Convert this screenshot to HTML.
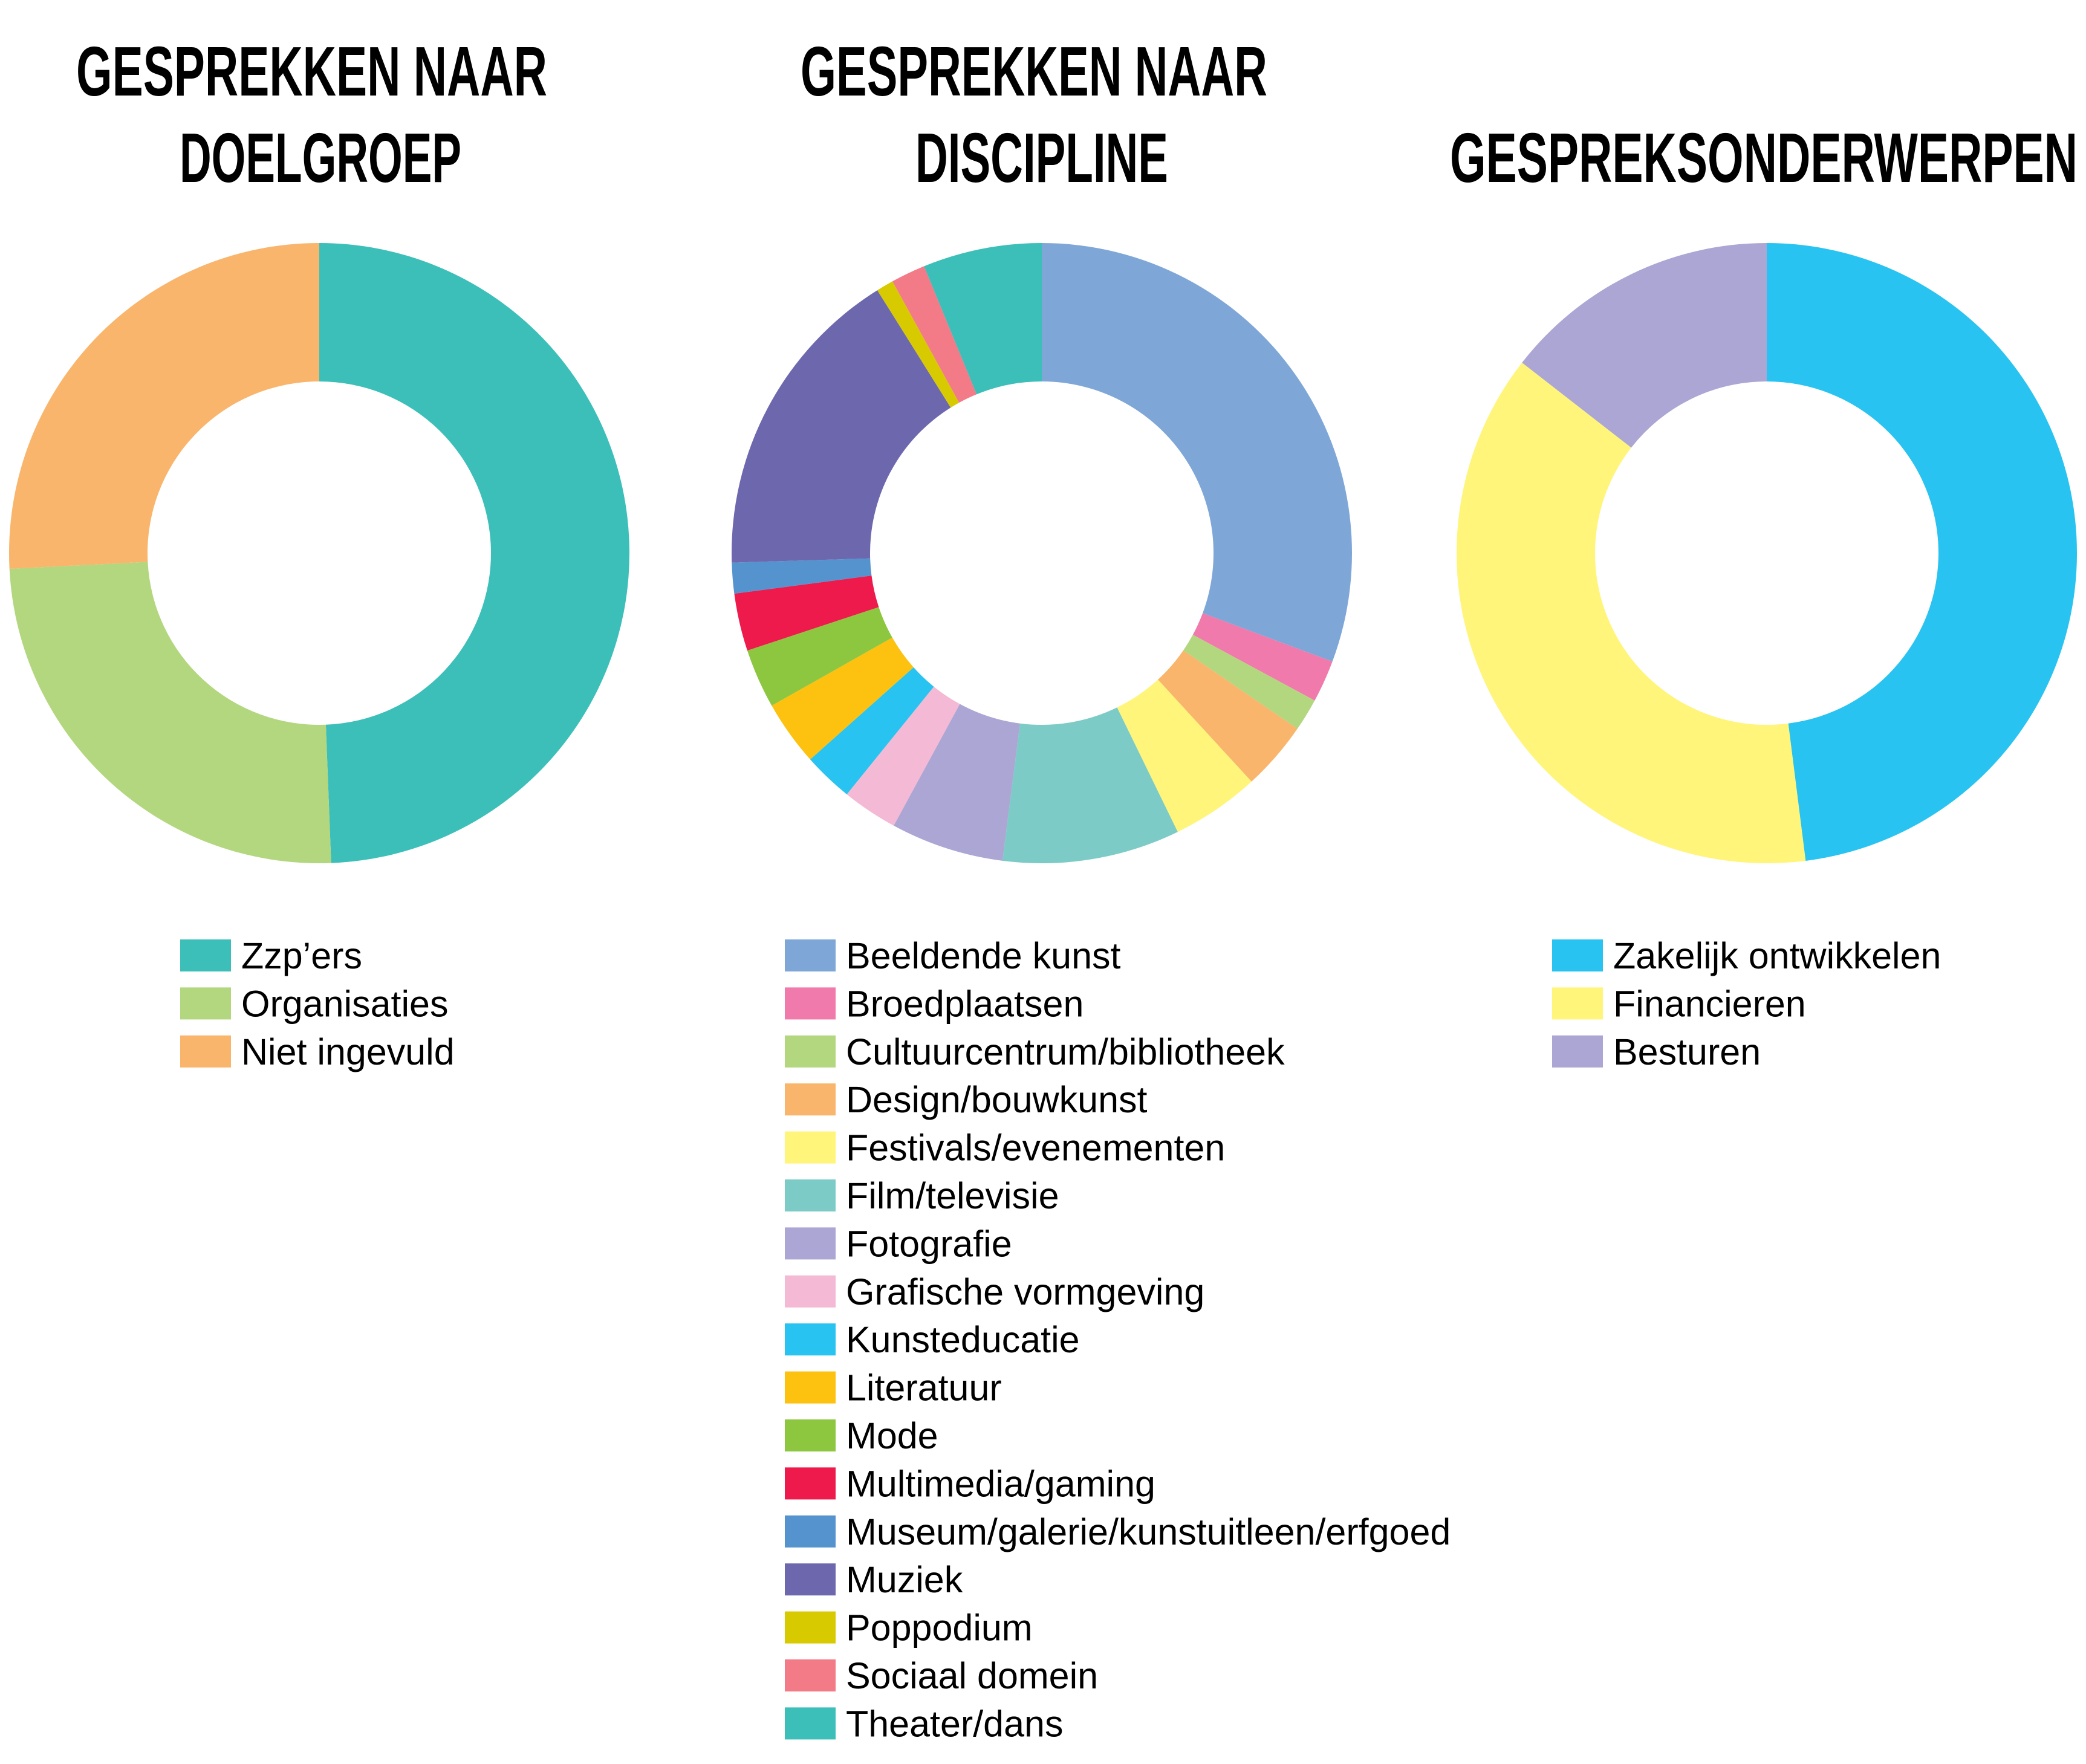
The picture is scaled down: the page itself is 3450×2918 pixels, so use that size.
<!DOCTYPE html>
<html><head><meta charset="utf-8">
<style>
html,body{margin:0;padding:0;background:#fff;}
svg{display:block;}
.t{font-family:"Liberation Sans Narrow","Liberation Sans",sans-serif;font-weight:bold;font-size:116px;fill:#000;}
.l{font-family:"Liberation Sans",sans-serif;font-size:61px;fill:#000;}
</style></head>
<body>
<svg id="chart" width="3450" height="2918" viewBox="0 0 3450 2918" xmlns="http://www.w3.org/2000/svg">
<text class="t" x="126" y="158" textLength="779" lengthAdjust="spacingAndGlyphs">GESPREKKEN NAAR</text>
<text class="t" x="297" y="301" textLength="466" lengthAdjust="spacingAndGlyphs">DOELGROEP</text>
<text class="t" x="1324" y="158" textLength="772" lengthAdjust="spacingAndGlyphs">GESPREKKEN NAAR</text>
<text class="t" x="1514" y="301" textLength="418" lengthAdjust="spacingAndGlyphs">DISCIPLINE</text>
<text class="t" x="2398" y="301" textLength="1038" lengthAdjust="spacingAndGlyphs">GESPREKSONDERWERPEN</text>
<g id="charts"></g>
</svg>
<script>
const doelCategories = ["Zzp’ers","Organisaties","Niet ingevuld"];
const doelValues = [177.8, 89.3, 92.9];
const doelColors = ["#3CBFB8","#B3D77F","#F9B56B"];

const discCategories = ["Beeldende kunst","Broedplaatsen","Cultuurcentrum/bibliotheek","Design/bouwkunst","Festivals/evenementen","Film/televisie","Fotografie","Grafische vormgeving","Kunsteducatie","Literatuur","Mode","Multimedia/gaming","Museum/galerie/kunstuitleen/erfgoed","Muziek","Poppodium","Sociaal domein","Theater/dans"];
const discValues = [30.7, 2.2, 1.7, 3.6, 4.6, 9.25, 5.9, 2.9, 2.6, 3.4, 3.1, 3.0, 1.6, 16.6, 0.9, 1.8, 6.2];
const discColors = ["#7EA7D8","#F07AAC","#B3D77F","#F9B56B","#FFF57A","#7CCBC7","#ABA6D3","#F4B9D5","#28C3F0","#FDC110","#8DC63F","#ED1A4B","#5593CF","#6D68AE","#D8CA00","#F37A87","#3CBFB8"];

const topicCategories = ["Zakelijk ontwikkelen","Financieren","Besturen"];
const topicValues = [172.8, 135.1, 52.1];
const topicColors = ["#28C3F0","#FFF57A","#ABA6D3"];

const NS = "http://www.w3.org/2000/svg";
const root = document.getElementById("charts");
function pt(cx, cy, r, a){ return [cx + r*Math.sin(a), cy - r*Math.cos(a)]; }
function donut(name, cats, vals, cols, cx, cy, R, r, lx, ly){
  const g = document.createElementNS(NS, "g");
  
  
  root.appendChild(g);
  const total = vals.reduce((a,b)=>a+b,0);
  let acc = 0;
  vals.forEach((v,i)=>{
    const a0 = acc/total*2*Math.PI; acc += v; const a1 = acc/total*2*Math.PI;
    const large = (a1-a0) > Math.PI ? 1 : 0;
    const p0 = pt(cx,cy,R,a0), p1 = pt(cx,cy,R,a1), q1 = pt(cx,cy,r,a1), q0 = pt(cx,cy,r,a0);
    const path = document.createElementNS(NS, "path");
    path.setAttribute("d", `M${p0[0]},${p0[1]} A${R},${R} 0 ${large} 1 ${p1[0]},${p1[1]} L${q1[0]},${q1[1]} A${r},${r} 0 ${large} 0 ${q0[0]},${q0[1]} Z`);
    path.setAttribute("fill", cols[i]);
    
    
    g.appendChild(path);
  });
  cats.forEach((c,i)=>{
    const y = ly + i*79.4;
    const rect = document.createElementNS(NS, "rect");
    rect.setAttribute("x", lx); rect.setAttribute("y", y-26);
    rect.setAttribute("width", 84); rect.setAttribute("height", 53);
    rect.setAttribute("fill", cols[i]);
    
    
    g.appendChild(rect);
    const t = document.createElementNS(NS, "text");
    t.setAttribute("class", "l");
    t.setAttribute("x", lx + 101); t.setAttribute("y", y + 22);
    t.textContent = c;
    
    
    g.appendChild(t);
  });
}
donut("donut-doelgroep", doelCategories, doelValues, doelColors, 528, 915, 513, 284, 298, 1580);
donut("donut-discipline", discCategories, discValues, discColors, 1723, 915, 513, 284, 1298, 1580);
donut("donut-onderwerpen", topicCategories, topicValues, topicColors, 2922, 915, 513, 284, 2567, 1580);
</script>
</body></html>
